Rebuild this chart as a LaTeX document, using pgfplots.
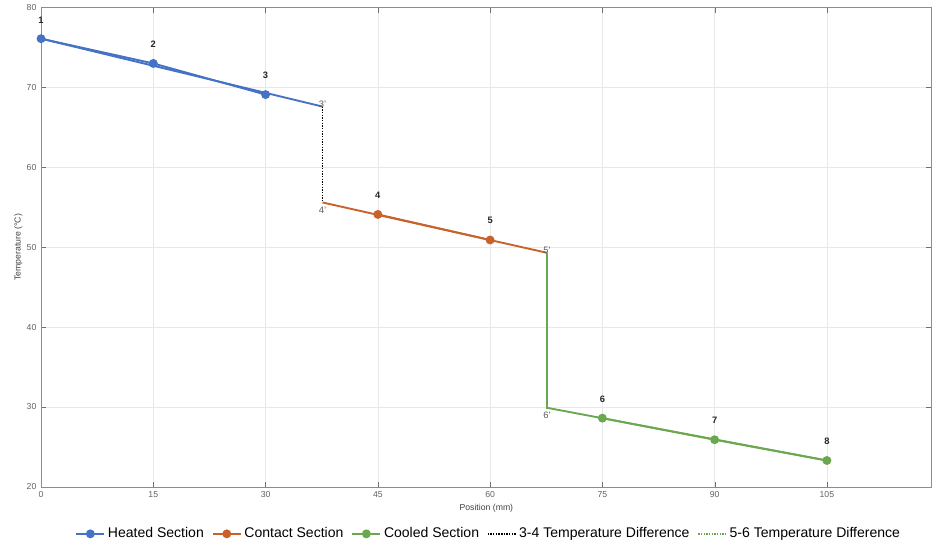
\documentclass[border=0pt]{standalone}
\usepackage{pgfplots}
\pgfplotsset{compat=1.18}
\usepackage{fontspec}
\setmainfont{Liberation Sans}
\definecolor{heat}{HTML}{4472C4}
\definecolor{cont}{HTML}{C8612A}
\definecolor{cool}{HTML}{6AA84F}
\definecolor{axgray}{HTML}{8C8C8C}

\begin{document}
\begin{tikzpicture}[x=0.75pt,y=0.75pt]
\begin{axis}[
    scale only axis,
    width=667pt, height=359pt,
    xmin=0, xmax=119, ymin=20, ymax=80,
    clip mode=individual,
    xtick={0,15,30,45,60,75,90,105},
    ytick={20,30,40,50,60,70,80},
    grid=major,
    major grid style={draw=gray!18, line width=0.5pt},
    axis line style={draw=axgray},
    tick style={draw=axgray!80!black},
    tick align=inside,
    major tick length=4pt,
    ticklabel style={font=\fontsize{6.5}{7}\selectfont, text=axgray!70!black},
    /pgf/number format/assume math mode=true,
    xlabel={Position (mm)},
    ylabel={Temperature (°C)},
    label style={font=\fontsize{6.5}{7}\selectfont, text=black!75},
    xlabel style={yshift=1.75pt},
    ylabel style={yshift=-3.75pt},
    legend columns=5,
    legend style={at={(0.503,-0.098)}, anchor=center, draw=none,
        font=\fontsize{10.5}{12}\selectfont,
        /tikz/every even column/.append style={column sep=4pt}},
    legend image code/.code={
        \draw[mark repeat=2,mark phase=2,#1]
            plot coordinates {(0pt,0pt) (10.5pt,0pt) (21pt,0pt)};},
    legend cell align=left,
]

% Heated section
\addplot[color=heat, line width=1.4pt, mark=*, mark size=2.6pt] coordinates {
    (0,76.1) (15,73.0) (30,69.1)
};
\addlegendentry{Heated Section}

% Contact section
\addplot[color=cont, line width=1.4pt, mark=*, mark size=2.6pt] coordinates {
    (45,54.1) (60,50.9)
};
\addlegendentry{Contact Section}

% Cooled section
\addplot[color=cool, line width=1.4pt, mark=*, mark size=2.6pt] coordinates {
    (75,28.6) (90,25.9) (105,23.3)
};
\addlegendentry{Cooled Section}

% 3-4 difference
\addplot[color=black, densely dotted, line width=1pt] coordinates {
    (37.6,67.6) (37.6,55.6)
};
\addlegendentry{3-4 Temperature Difference}

% 5-6 difference
\addplot[color=cool, densely dotted, line width=1pt] coordinates {
    (67.6,49.3) (67.6,29.9)
};
\addlegendentry{5-6 Temperature Difference}

% extrapolated lines
\addplot[color=heat, line width=1.4pt, forget plot] coordinates {
    (0,76.1) (37.6,67.6)
};
\addplot[color=cont, line width=1.4pt, forget plot] coordinates {
    (37.6,55.6) (67.6,49.3)
};
\addplot[color=cool, line width=1.4pt, forget plot] coordinates {
    (67.6,49.3) (67.6,29.9) (105,23.3)
};

% point labels
\tikzset{pl/.style={font=\bfseries\fontsize{7}{8}\selectfont, text=black!85},
         pp/.style={font=\fontsize{7}{8}\selectfont, text=black!65}}
\node[pl] at (axis cs:0,78.4) {1};
\node[pl] at (axis cs:15,75.4) {2};
\node[pl] at (axis cs:30,71.5) {3};
\node[pl] at (axis cs:45,56.5) {4};
\node[pl] at (axis cs:60,53.3) {5};
\node[pl] at (axis cs:75,31.0) {6};
\node[pl] at (axis cs:90,28.3) {7};
\node[pl] at (axis cs:105,25.7) {8};
\node[pp] at (axis cs:37.6,67.9) {3'};
\node[pp] at (axis cs:37.6,54.6) {4'};
\node[pp] at (axis cs:67.6,49.6) {5'};
\node[pp] at (axis cs:67.6,28.9) {6'};
\coordinate (O) at (rel axis cs:0,0);
\end{axis}
\path ([xshift=-30.75pt,yshift=-44.25pt]O) -- ([xshift=-30.75pt]O);
\end{tikzpicture}
\end{document}
